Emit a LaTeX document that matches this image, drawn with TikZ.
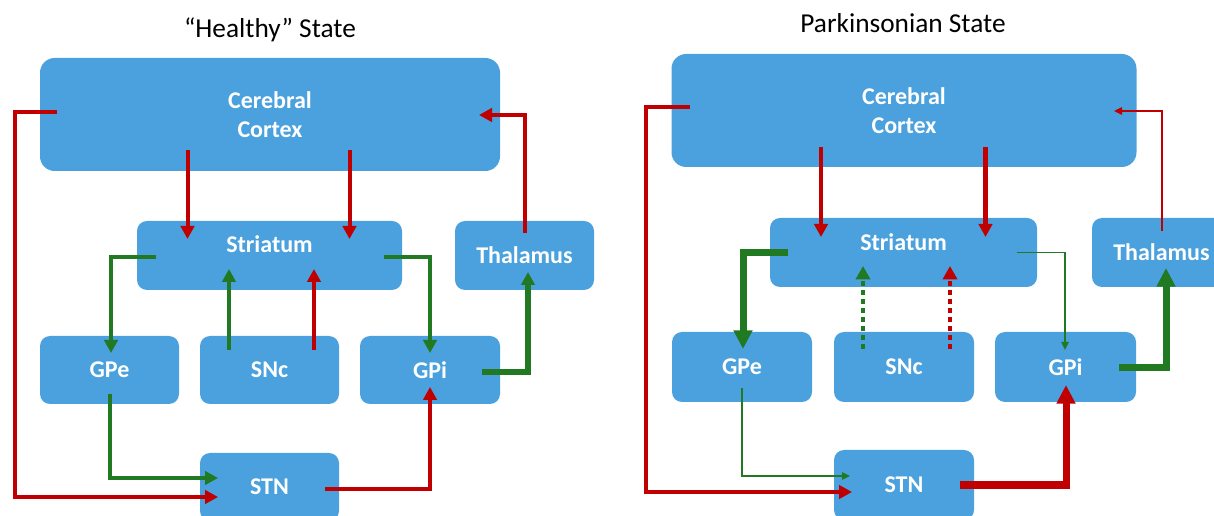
\documentclass[tikz,border=0pt]{standalone}
\usepackage{fontspec}
\setmainfont{Carlito}
\usetikzlibrary{arrows.meta,calc}
\definecolor{boxblue}{RGB}{74,161,222}
\definecolor{exred}{RGB}{192,0,0}
\definecolor{ingreen}{RGB}{33,122,33}

\begin{document}
\begin{tikzpicture}[x=0.75pt,y=-0.75pt,
  region/.style={fill=boxblue,text=white,inner sep=0pt,align=center,
    rounded corners=7.5pt,font=\fontsize{18}{21.8}\selectfont\bfseries},
  sz/.style 2 args={minimum width=#1*0.75pt,minimum height=#2*0.75pt},
  title/.style={font=\fontsize{20.5}{24}\selectfont,anchor=base},
  tipn/.style={-{Triangle[length=9.75pt,width=10pt]}},
  tipb/.style={-{Triangle[length=14pt,width=13.5pt]}},
  tips/.style={-{Triangle[length=6pt,width=5.5pt]}},
  tipd/.style={-{Triangle[length=10pt,width=10.5pt]}},
  rednorm/.style={draw=exred,line width=3pt,tipn},
  grnnorm/.style={draw=ingreen,line width=3pt,tipn},
  redthick/.style={draw=exred,line width=5.25pt,tipb},
  grnthick/.style={draw=ingreen,line width=5.25pt,tipb},
  redthin/.style={draw=exred,line width=1.1pt,tips},
  grnthin/.style={draw=ingreen,line width=1.1pt,tips},
  reddot/.style={draw=exred,line width=3.4pt,dash pattern=on 3.4pt off 3.4pt,tipd},
  grndot/.style={draw=ingreen,line width=3.4pt,dash pattern=on 3.4pt off 3.4pt,tipd}
]
\clip (0,0) rectangle (1214,516);

% ---------------- healthy network ----------------
\node[title] (titleL) at (270,37.3) {“Healthy” State};
\node[region,sz={460}{113},rounded corners=11pt] (cortexL) at (270,114.5) {Cerebral\\Cortex};
\node[region,sz={265}{69},label={[text=white,font=\fontsize{18}{21.8}\selectfont\bfseries,yshift=8.25pt]center:Striatum}] (striL) at (269.5,255.5) {};
\node[region,sz={139}{69}] (thalL) at (524.5,255.5) {Thalamus};
\node[region,sz={139}{68}] (gpeL) at (109.5,370) {GPe};
\node[region,sz={139}{68}] (sncL) at (269.5,370) {SNc};
\node[region,sz={140}{68}] (gpiL) at (430,370) {GPi};
\node[region,sz={139}{68}] (stnL) at (269.5,487) {STN};

\draw[rednorm] ($(cortexL)+(-82.5,35.5)$) -- ($(striL)+(-82,-16.5)$);
\draw[rednorm] ($(cortexL)+(79.5,35.5)$) -- ($(striL)+(80,-16.5)$);
\draw[rednorm] ($(cortexL)+(-213,-2.5)$) -- ++(-42,0) |- ($(stnL)+(-51.5,10)$);
\draw[rednorm] ($(thalL)+(0.5,-22.5)$) |- ($(cortexL)+(209,0.5)$);
\draw[grnnorm] ($(striL)+(-113.5,1.5)$) -| ($(gpeL)+(1.5,-17)$);
\draw[grnnorm] ($(sncL)+(-40.5,-20)$) -- ($(striL)+(-40.5,13.5)$);
\draw[rednorm] ($(sncL)+(44.5,-20)$) -- ($(striL)+(44.5,13.5)$);
\draw[grnnorm] ($(striL)+(114.5,1.5)$) -| ($(gpiL)+(0,-17)$);
\draw[grnnorm,line width=4pt] ($(gpiL)+(52,2)$) -| ($(thalL)+(3.5,16.5)$);
\draw[grnnorm] ($(gpeL)+(0.5,24)$) |- ($(stnL)+(-51.5,-9)$);
\draw[rednorm] ($(stnL)+(55.5,2)$) -| ($(gpiL)+(0,17)$);

% ---------------- parkinsonian network ----------------
\node[title] (titleR) at (903,33) {Parkinsonian State};
\node[region,sz={465}{113},rounded corners=11pt] (cortexR) at (904,110.5) {Cerebral\\Cortex};
\node[region,sz={267}{69},label={[text=white,font=\fontsize{18}{21.8}\selectfont\bfseries,yshift=8pt]center:Striatum}] (striR) at (903.5,252.5) {};
\node[region,sz={139}{69}] (thalR) at (1161.5,252.5) {Thalamus};
\node[region,sz={140}{70}] (gpeR) at (742,367) {GPe};
\node[region,sz={140}{70}] (sncR) at (904,367) {SNc};
\node[region,sz={141}{70}] (gpiR) at (1065.5,367) {GPi};
\node[region,sz={140}{70}] (stnR) at (904,485) {STN};

\draw[rednorm,line width=3.5pt] ($(cortexR)+(-83,36.5)$) -- ($(striR)+(-82.5,-15.5)$);
\draw[rednorm,line width=3.5pt] ($(cortexR)+(81.5,36.5)$) -- ($(striR)+(82,-15.5)$);
\draw[rednorm,line width=3.5pt] ($(cortexR)+(-214,-3.5)$) -- ++(-44,0) |- ($(stnR)+(-52,7)$);
\draw[redthin] ($(thalR)+(0.5,-21.5)$) |- ($(cortexR)+(210,0.5)$);
\draw[grnthick] ($(striR)+(-115.5,0.2)$) -| ($(gpeR)+(1,-18)$);
\draw[grndot] ($(sncR)+(-41,-18)$) -- ($(striR)+(-40.5,13.5)$);
\draw[reddot] ($(sncR)+(46,-18)$) -- ($(striR)+(46.5,13.5)$);
\draw[grnthin] ($(striR)+(113.5,0.2)$) -| ($(gpiR)+(-0.5,-17)$);
\draw[grnthick] ($(gpiR)+(53.5,1)$) -| ($(thalR)+(4.5,15.5)$);
\draw[grnthin] ($(gpeR)+(0,21)$) |- ($(stnR)+(-54,-9)$);
\draw[redthick] ($(stnR)+(56,0)$) -| ($(gpiR)+(0.5,18)$);
\end{tikzpicture}
\end{document}
